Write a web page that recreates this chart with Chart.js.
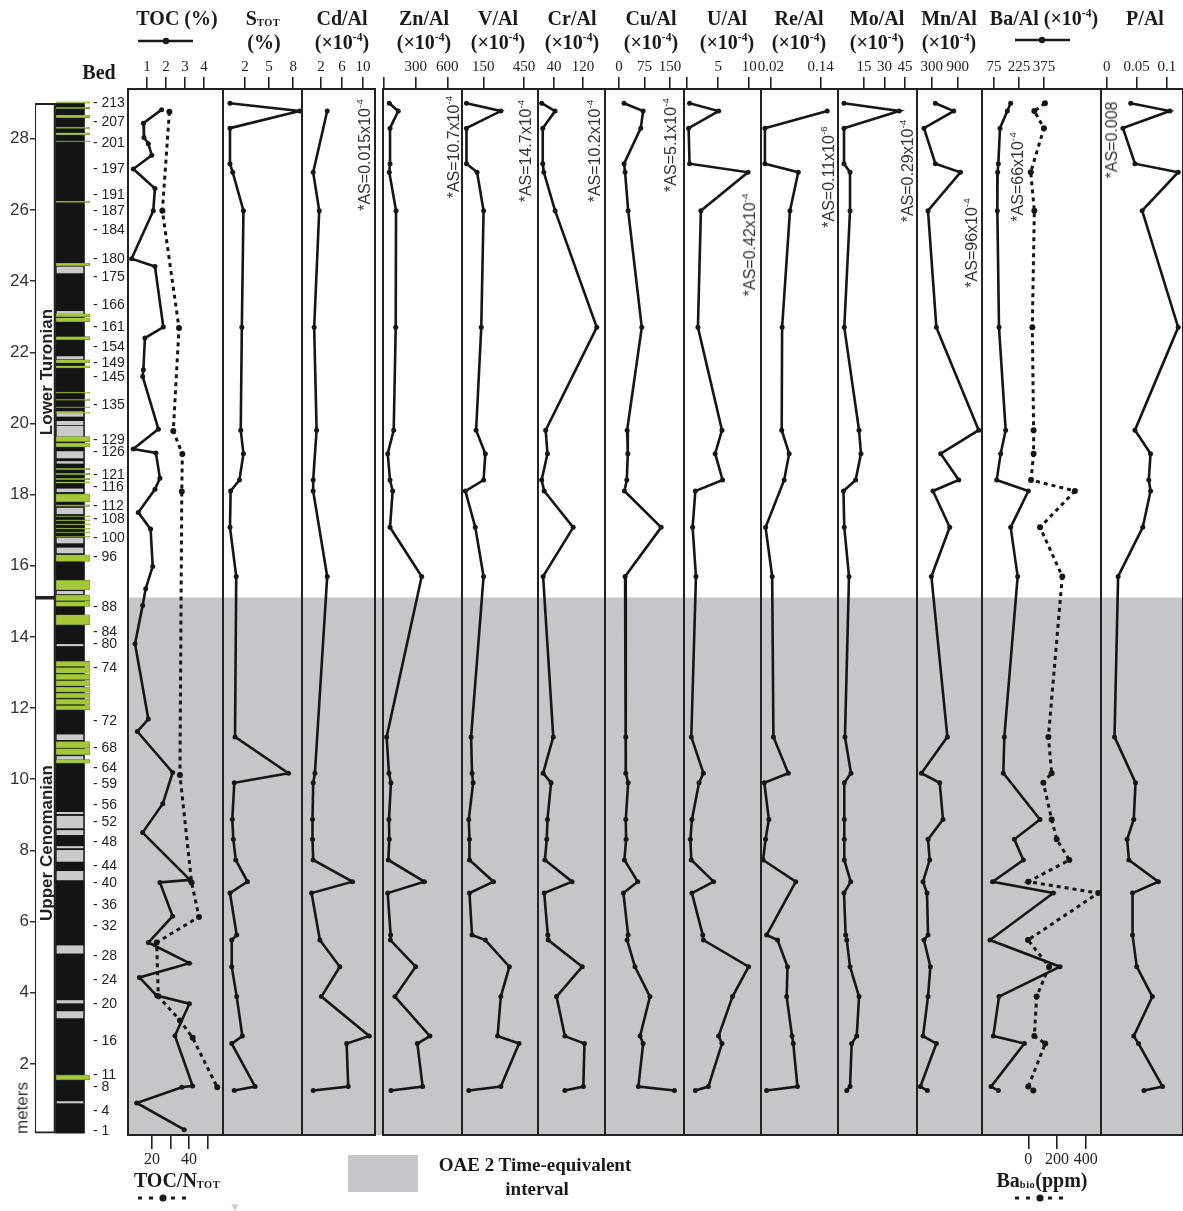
<!DOCTYPE html>
<html>
<head>
<meta charset="utf-8">
<script src="https://cdn.jsdelivr.net/npm/chart.js@4.4.0/dist/chart.umd.min.js"></script>
<style>
html,body{margin:0;padding:0;background:#fff;overflow:hidden;width:1183px;height:1211px;}
#root{position:relative;width:1183px;height:1211px;overflow:hidden;}
#root canvas{position:absolute;top:0;}
.tt{position:absolute;transform:translate(-50%,-50%);font:bold 20px "Liberation Serif","Times New Roman",serif;color:#1a1a1a;white-space:nowrap;line-height:1;}
.sup{font-size:58%;vertical-align:0.65em;}
.sub{font-size:52%;vertical-align:-0.05em;letter-spacing:0.5px;}
.as{position:absolute;transform:translate(-50%,-50%) rotate(-90deg);font:16px "Liberation Sans",Arial,sans-serif;color:#333;white-space:nowrap;line-height:1;}
.as .sup{font-size:62%;vertical-align:0.7em;}
.stage{position:absolute;transform:translate(-50%,-50%) rotate(-90deg);font:bold 17px "Liberation Sans",Arial,sans-serif;color:#222;white-space:nowrap;line-height:1;}
.ax{position:absolute;transform:translate(-50%,-50%) rotate(-90deg);font:17px "Liberation Sans",Arial,sans-serif;color:#333;white-space:nowrap;line-height:1;}
svg.leg{position:absolute;overflow:visible;}
</style>
</head>
<body>
<div id="root">
  <div id="charts"></div>
  <!-- column titles -->
  <div class="tt" style="left:99px;top:72px;">Bed</div>
  <div class="tt" style="left:177px;top:18px;">TOC (%)</div>
  <div class="tt" style="left:263px;top:18px;">S<span class="sub">TOT</span></div>
  <div class="tt" style="left:264px;top:42px;">(%)</div>
  <div class="tt" style="left:342px;top:18px;">Cd/Al</div>
  <div class="tt" style="left:342px;top:42px;">(×10<span class="sup">-4</span>)</div>
  <div class="tt" style="left:424px;top:18px;">Zn/Al</div>
  <div class="tt" style="left:424px;top:42px;">(×10<span class="sup">-4</span>)</div>
  <div class="tt" style="left:498px;top:18px;">V/Al</div>
  <div class="tt" style="left:498px;top:42px;">(×10<span class="sup">-4</span>)</div>
  <div class="tt" style="left:572px;top:18px;">Cr/Al</div>
  <div class="tt" style="left:572px;top:42px;">(×10<span class="sup">-4</span>)</div>
  <div class="tt" style="left:651px;top:18px;">Cu/Al</div>
  <div class="tt" style="left:651px;top:42px;">(×10<span class="sup">-4</span>)</div>
  <div class="tt" style="left:727px;top:18px;">U/Al</div>
  <div class="tt" style="left:727px;top:42px;">(×10<span class="sup">-4</span>)</div>
  <div class="tt" style="left:799px;top:18px;">Re/Al</div>
  <div class="tt" style="left:799px;top:42px;">(×10<span class="sup">-4</span>)</div>
  <div class="tt" style="left:877px;top:18px;">Mo/Al</div>
  <div class="tt" style="left:877px;top:42px;">(×10<span class="sup">-4</span>)</div>
  <div class="tt" style="left:949px;top:18px;">Mn/Al</div>
  <div class="tt" style="left:949px;top:42px;">(×10<span class="sup">-4</span>)</div>
  <div class="tt" style="left:1044px;top:18px;">Ba/Al (×10<span class="sup">-4</span>)</div>
  <div class="tt" style="left:1145px;top:18px;">P/Al</div>
  <svg class="leg" style="left:138px;top:36px;" width="56" height="10"><line x1="0" y1="5" x2="55" y2="5" stroke="#1a1a1a" stroke-width="2.6"/><circle cx="28" cy="5" r="3.2" fill="#1a1a1a"/></svg>
  <svg class="leg" style="left:1015px;top:35px;" width="56" height="10"><line x1="0" y1="5" x2="55" y2="5" stroke="#1a1a1a" stroke-width="2.6"/><circle cx="27" cy="5" r="3.2" fill="#1a1a1a"/></svg>
  <!-- analytical sensitivity notes -->
  <div class="as" style="left:364px;top:155px;">*AS=0.015x10<span class="sup">-4</span></div>
  <div class="as" style="left:453px;top:147px;">*AS=10.7x10<span class="sup">-4</span></div>
  <div class="as" style="left:525px;top:151px;">*AS=14.7x10<span class="sup">-4</span></div>
  <div class="as" style="left:594px;top:151px;">*AS=10.2x10<span class="sup">-4</span></div>
  <div class="as" style="left:670px;top:145px;">*AS=5.1x10<span class="sup">-4</span></div>
  <div class="as" style="left:749px;top:245px;">*AS=0.42x10<span class="sup">-4</span></div>
  <div class="as" style="left:828px;top:177px;">*AS=0.11x10<span class="sup">-6</span></div>
  <div class="as" style="left:907px;top:171px;">*AS=0.29x10<span class="sup">-4</span></div>
  <div class="as" style="left:971px;top:243px;">*AS=96x10<span class="sup">-4</span></div>
  <div class="as" style="left:1017px;top:177px;">*AS=66x10<span class="sup">-4</span></div>
  <div class="as" style="left:1112px;top:140px;">*AS=0.008</div>
  <!-- stage labels -->
  <div class="stage" style="left:46px;top:372px;">Lower Turonian</div>
  <div class="stage" style="left:46px;top:843px;">Upper Cenomanian</div>
  <div class="ax" style="left:22px;top:1108px;">meters</div>
  <!-- bottom legends -->
  <div class="tt" style="left:177px;top:1180px;">TOC/N<span class="sub">TOT</span></div>
  <svg class="leg" style="left:138px;top:1193px;" width="56" height="10"><line x1="0" y1="5" x2="54" y2="5" stroke="#1a1a1a" stroke-width="3" stroke-dasharray="4 7"/><circle cx="25" cy="5" r="3.6" fill="#1a1a1a"/></svg>
  <div class="tt" style="left:1042px;top:1180px;">Ba<span class="sub">bio</span>(ppm)</div>
  <svg class="leg" style="left:1015px;top:1193px;" width="56" height="10"><line x1="0" y1="5" x2="54" y2="5" stroke="#1a1a1a" stroke-width="3" stroke-dasharray="4 7"/><circle cx="25" cy="5" r="3.6" fill="#1a1a1a"/></svg>
  <div style="position:absolute;left:348px;top:1155px;width:70px;height:37px;background:#c5c5ca;"></div>
  <div class="tt" style="left:535px;top:1164px;font-size:19px;">OAE 2 Time-equivalent</div>
  <div class="tt" style="left:537px;top:1188px;font-size:19px;">interval</div>
  <div style="position:absolute;left:229px;top:1200px;font:12px 'Liberation Sans',sans-serif;color:#d0d0d4;">▼</div>
</div>
<script>
// ---------------- DATA ----------------
// depth axis (meters)
const Y_MIN = 0;
const Y_MAX = 29.4;
const METER_TICKS = [2, 4, 6, 8, 10, 12, 14, 16, 18, 20, 22, 24, 26, 28];

// bed numbers and their stratigraphic height (m)
const BED_LABEL = ['213','207','201','197','191','187','184','180','175','166','161','154','149','145','135','129','126','121','116','112','108','100','96','88','84','80','74','72','68','64','59','56','52','48','44','40','36','32','28','24','20','16','11','8','4','1'];
const BED_DEPTH = [29.0,28.46,27.89,27.16,26.43,25.98,25.42,24.63,24.12,23.33,22.71,22.15,21.7,21.31,20.52,19.54,19.2,18.55,18.21,17.68,17.31,16.78,16.24,14.84,14.14,13.8,13.13,11.64,10.88,10.32,9.87,9.28,8.8,8.24,7.57,7.09,6.47,5.88,5.04,4.36,3.69,2.65,1.67,1.34,0.67,0.11];

// lithology column: [base, top] in meters
const COLUMN_RANGE = [0.05, 29.0];
const STAGE_NAMES = ['Upper Cenomanian', 'Lower Turonian'];
const STAGE_BASE = [0.05, 15.1];
const STAGE_TOP = [15.1, 29.0];
const GREEN_BEDS = [[29.0,29.04],[28.85,28.89],[28.59,28.67],[28.29,28.33],[28.11,28.17],[27.91,27.94],[26.21,26.25],[24.43,24.51],[23.0,23.08],[22.86,22.97],[22.35,22.44],[21.7,21.79],[21.56,21.62],[20.85,20.88],[20.65,20.68],[20.44,20.47],[20.29,20.32],[19.49,19.63],[19.34,19.45],[18.7,18.74],[18.56,18.6],[18.42,18.46],[18.32,18.36],[17.8,18.02],[17.67,17.71],[17.37,17.4],[17.26,17.29],[17.15,17.18],[17.03,17.06],[16.92,16.95],[16.8,16.83],[16.12,16.31],[15.32,15.59],[15.02,15.18],[14.86,14.99],[14.34,14.62],[13.17,13.31],[12.98,13.14],[12.8,12.95],[12.62,12.77],[12.45,12.59],[12.28,12.42],[12.1,12.25],[11.95,12.07],[10.88,11.06],[10.69,10.86],[10.45,10.55],[1.55,1.69]];
const GRAY_BEDS = [[24.23,24.4],[23.08,23.15],[21.81,21.88],[20.2,20.33],[19.96,20.06],[19.63,19.92],[19.03,19.21],[18.88,18.93],[18.08,18.16],[17.46,17.62],[16.64,16.78],[16.36,16.5],[15.21,15.28],[13.75,13.79],[11.11,11.25],[10.55,10.64],[9.03,9.07],[8.63,8.96],[8.44,8.56],[8.07,8.11],[7.69,8.0],[7.17,7.41],[5.11,5.32],[3.71,3.78],[3.29,3.47],[0.9,0.94]];

// OAE 2 time-equivalent interval [base, top] (m)
const OAE2_INTERVAL = [0, 15.1];

// TOC (wt%) samples
const TOC_DEPTH = [28.82,28.44,28.04,27.86,27.54,27.15,26.6,25.98,24.63,24.41,22.71,22.4,21.51,21.32,19.84,19.28,19.17,18.46,18.15,17.5,17.03,15.98,15.35,14.88,13.81,11.69,11.34,10.19,9.31,8.5,7.17,7.1,6.15,5.41,4.83,4.43,3.92,3.69,2.79,1.38,1.34,0.9,0.15];
const TOC_WT = [1.77,0.81,0.84,1.07,1.25,0.28,1.42,1.33,0.19,1.42,1.86,0.89,0.81,0.77,1.6,0.28,1.47,1.68,1.42,0.54,1.19,1.3,0.93,0.77,0.37,1.07,0.49,2.35,1.83,0.77,3.26,1.68,2.35,1.07,3.23,0.6,1.51,3.23,2.47,3.4,2.83,0.46,2.96];

// TOC/N_TOT samples
const TOCN_DEPTH = [28.76,25.98,22.68,19.79,19.14,18.09,10.12,7.1,6.13,5.41,3.9,3.22,2.73,1.34];
const TOC_N = [29.4,25.6,34.6,31.5,36.4,36.1,35.1,41.4,45.4,22.5,23.4,35.1,42,55.3];

// geochemistry samples (shared depths, null = not plotted)
const SAMPLE_DEPTH = [29.0,28.78,28.3,27.3,27.06,25.98,22.7,19.81,19.15,18.41,18.1,17.08,15.7,11.19,10.17,9.9,8.87,8.31,7.73,7.12,6.8,5.62,5.48,4.73,3.89,2.78,2.57,1.36,1.25];
const S_TOT = [0.12,8.8,0.12,0.12,0.46,1.8,1.6,1.46,1.8,1.3,0.2,0.12,0.9,0.75,7.4,0.66,0.41,0.54,0.84,2.3,0.12,0.96,0.34,0.34,0.96,1.66,0.34,3.25,0.66];
const CD_AL = [null,3.2,null,null,0.53,1.68,0.72,1.18,null,0.53,0.53,null,3.2,null,0.86,0.53,0.4,0.4,0.53,8.0,0.22,null,1.8,5.6,2.1,11.2,6.9,7.2,0.53];
const ZN_AL = [50,135,57,57,50,114,111,92,35,57,82,57,357,25,47,66,47,50,41,382,35,63,60,300,104,435,316,366,66];
const V_AL = [26,279,26,26,104,152,135,97,165,152,18,91,152,60,67,75,43,48,48,225,48,67,165,342,279,255,413,279,43];
const CR_AL = [6,43,9,9,12,43,158,17,22,6,13,93,10,38,10,32,22,20,15,90,13,23,24,118,47,70,124,121,70];
const CU_AL = [15,71,64,15,18,27,67,24,26,23,16,124,18,20,20,27,20,21,16,55,13,27,24,47,91,62,71,57,163];
const U_AL = [0.37,5.05,0.21,0.37,9.8,2.2,1.72,5.6,4.5,5.7,1.3,0.86,1.4,0.65,2.6,1.9,0.75,0.5,0.65,4.25,0.75,2.5,2.6,9.9,7.3,5.05,5.6,3.4,1.3];
const RE_AL = [null,0.156,0.0055,0.0055,0.086,0.066,0.047,0.046,0.064,0.052,null,0.007,0.023,0.026,0.062,0.004,0.015,0.007,0.001,0.080,null,0.0096,0.036,0.060,0.058,0.071,0.074,0.084,0.0096];
const MO_AL = [0.4,40.8,0.4,0.4,4.8,4.8,0.6,11.4,12.8,8.9,0,0.6,4.05,1.1,5.5,0.6,0.6,0.6,0.6,5.3,0.4,1.6,2.4,4.8,11.4,9.7,6.0,4.8,2.4];
const MN_AL = [385,808,122,385,963,215,408,1385,508,924,330,716,293,662,62,485,561,215,254,100,192,215,122,270,215,100,408,39,200];
const BA_AL = [175,155,111,101,97,95,105,145,115,91,281,175,217,137,131,null,351,197,251,67,431,null,51,471,105,71,257,57,101];
const BA_BIO = [116,42,109,null,17,42,28,37,37,19,325,82,237,140,163,105,163,198,286,0,488,null,-2,145,58,42,118,0,35];
const P_AL = [0.040,0.105,0.027,0.047,0.119,0.059,0.119,0.047,0.073,0.070,0.073,0.060,0.019,0.013,null,0.048,0.045,0.034,0.037,0.086,0.043,0.043,null,0.050,0.076,0.045,0.053,0.093,0.062];

// tick values / labels of each panel's scale
const TOC_TICKS = [1,2,3,4];          const TOC_TICK_LABELS = ['1','2','3','4'];
const STOT_TICKS = [2,5,8];           const STOT_TICK_LABELS = ['2','5','8'];
const CD_TICKS = [2,6,10];            const CD_TICK_LABELS = ['2','6','10'];
const ZN_TICKS = [0,300,600];         const ZN_TICK_LABELS = ['','300','600'];
const V_TICKS = [150,450];            const V_TICK_LABELS = ['150','450'];
const CR_TICKS = [40,120];            const CR_TICK_LABELS = ['40','120'];
const CU_TICKS = [0,75,150];          const CU_TICK_LABELS = ['0','75','150'];
const U_TICKS = [0,5,10];             const U_TICK_LABELS = ['','5','10'];
const RE_TICKS = [0.02,0.14];         const RE_TICK_LABELS = ['0.02','0.14'];
const MO_TICKS = [15,30,45];          const MO_TICK_LABELS = ['15','30','45'];
const MN_TICKS = [300,900];           const MN_TICK_LABELS = ['300','900'];
const BA_TICKS = [75,225,375];        const BA_TICK_LABELS = ['75','225','375'];
const P_TICKS = [0,0.05,0.1];         const P_TICK_LABELS = ['0','0.05','0.1'];
const TOCN_TICKS = [20,30,40,50];     const TOCN_TICK_LABELS = ['20','','40',''];
const BABIO_TICKS = [0,200,400];      const BABIO_TICK_LABELS = ['0','200','400'];

// ---------------- RENDERING ----------------
const SERIF = '"Liberation Serif","Times New Roman",serif';
const SANS = '"Liberation Sans",Arial,sans-serif';
Chart.defaults.font.family = SERIF;
Chart.defaults.color = '#222';
const W = 1183, H = 1211, PLOT_TOP = 89, PLOT_BOTTOM_PAD = 76, PADX = 30;
const INK = '#161616';
const charts = document.getElementById('charts');

function addCanvas(left, width) {
  const c = document.createElement('canvas');
  c.width = width; c.height = H;
  c.style.left = left + 'px'; c.style.width = width + 'px'; c.style.height = H + 'px';
  charts.appendChild(c);
  return c;
}
function pts(depth, values) {
  return depth.map((d, i) => ({x: values[i], y: d})).filter(p => p.x !== null && p.x !== undefined);
}
function fixedTicks(values) {
  return (scale) => { scale.ticks = values.map(v => ({value: v})); };
}
const framePlugin = {
  id: 'frame',
  afterDraw(chart) {
    const {ctx, chartArea: a} = chart;
    ctx.save();
    ctx.strokeStyle = '#222'; ctx.lineWidth = 2;
    ctx.strokeRect(a.left, a.top, a.right - a.left, a.bottom - a.top);
    ctx.restore();
  }
};

// 1) OAE 2 background band
new Chart(addCanvas(128, W - 128), {
  type: 'bar',
  data: {labels: ['OAE 2 Time-equivalent interval'],
         datasets: [{data: [OAE2_INTERVAL], backgroundColor: '#c5c5ca', borderWidth: 0, barPercentage: 1, categoryPercentage: 1}]},
  options: {responsive: false, animation: false, events: [],
    layout: {padding: {left: 0, right: 0, top: PLOT_TOP, bottom: PLOT_BOTTOM_PAD}},
    plugins: {legend: {display: false}, tooltip: {enabled: false}},
    scales: {x: {display: false}, y: {display: false, min: Y_MIN, max: Y_MAX}}}
});

// 2) lithology column with meter axis and bed labels
// (order: lower number is drawn on top)
const LITH = {stageX: 0.18, colX: 0.636, greenX: 0.69, grayX: 0.636};
new Chart(addCanvas(0, 130), {
  type: 'bar',
  data: {datasets: [
    {label: 'Stage', stack: 'lith', order: 0, data: STAGE_NAMES.map((n, i) => ({x: LITH.stageX, y: [STAGE_BASE[i], STAGE_TOP[i]]})),
     backgroundColor: '#ffffff', borderColor: '#222', borderWidth: 2, borderSkipped: false, barThickness: 21},
    {label: 'Column', stack: 'lith', order: 3, data: [{x: LITH.colX, y: COLUMN_RANGE}],
     backgroundColor: '#141414', borderWidth: 0, barThickness: 29},
    {label: 'Green beds', stack: 'lith', order: 1, data: GREEN_BEDS.map(b => ({x: LITH.greenX, y: b})),
     backgroundColor: '#a3c839', borderColor: '#5f7d1c', borderWidth: 0.6, borderSkipped: false, barThickness: 34},
    {label: 'Gray beds', stack: 'lith', order: 2, data: GRAY_BEDS.map(b => ({x: LITH.grayX, y: b})),
     backgroundColor: '#cacacd', borderWidth: 0, barThickness: 26}
  ]},
  options: {responsive: false, animation: false, events: [],
    layout: {padding: {left: 0, right: 0, top: PLOT_TOP, bottom: PLOT_BOTTOM_PAD}},
    plugins: {legend: {display: false}, tooltip: {enabled: false}},
    scales: {
      x: {type: 'linear', min: 0, max: 1, display: false, offset: false},
      y: {type: 'linear', min: Y_MIN, max: Y_MAX, stacked: false, position: 'left',
          afterFit: s => { s.width = 35; }, afterBuildTicks: fixedTicks(METER_TICKS),
          ticks: {font: {family: SANS, size: 17}, color: '#333', padding: 1, autoSkip: false},
          grid: {drawOnChartArea: false, tickLength: 5, color: '#333', lineWidth: 1.5},
          border: {display: false}},
      yBed: {type: 'linear', min: Y_MIN, max: Y_MAX, position: 'right',
          afterFit: s => { s.width = 40; }, afterBuildTicks: fixedTicks(BED_DEPTH),
          ticks: {autoSkip: false, callback: (v, i) => '- ' + BED_LABEL[i], font: {family: SANS, size: 14}, color: '#222', padding: 3},
          grid: {display: false, drawTicks: false}, border: {display: false}}
    }}
});

// 3) geochemical panels
const PANELS = [
  {L: 128, R: 223, min: 0, max: 5, ticks: TOC_TICKS, labels: TOC_TICK_LABELS, depth: TOC_DEPTH, values: TOC_WT,
   second: {min: 7, max: 58.4, ticks: TOCN_TICKS, labels: TOCN_TICK_LABELS, depth: TOCN_DEPTH, values: TOC_N}},
  {L: 223, R: 302, min: -0.75, max: 9.1, ticks: STOT_TICKS, labels: STOT_TICK_LABELS, depth: SAMPLE_DEPTH, values: S_TOT},
  {L: 302, R: 375, min: -1.6, max: 12.3, ticks: CD_TICKS, labels: CD_TICK_LABELS, depth: SAMPLE_DEPTH, values: CD_AL},
  {L: 383, R: 462, min: -9.5, max: 739, ticks: ZN_TICKS, labels: ZN_TICK_LABELS, depth: SAMPLE_DEPTH, values: ZN_AL},
  {L: 462, R: 538, min: -7, max: 553, ticks: V_TICKS, labels: V_TICK_LABELS, depth: SAMPLE_DEPTH, values: V_AL},
  {L: 538, R: 605, min: -4.1, max: 180.7, ticks: CR_TICKS, labels: CR_TICK_LABELS, depth: SAMPLE_DEPTH, values: CR_AL},
  {L: 605, R: 684, min: -41, max: 191, ticks: CU_TICKS, labels: CU_TICK_LABELS, depth: SAMPLE_DEPTH, values: CU_AL},
  {L: 684, R: 761, min: -0.53, max: 11.9, ticks: U_TICKS, labels: U_TICK_LABELS, depth: SAMPLE_DEPTH, values: U_AL},
  {L: 761, R: 838, min: -0.004, max: 0.182, ticks: RE_TICKS, labels: RE_TICK_LABELS, depth: SAMPLE_DEPTH, values: RE_AL},
  {L: 838, R: 917, min: -4, max: 53.8, ticks: MO_TICKS, labels: MO_TICK_LABELS, depth: SAMPLE_DEPTH, values: MO_AL},
  {L: 917, R: 982, min: -39, max: 1461, ticks: MN_TICKS, labels: MN_TICK_LABELS, depth: SAMPLE_DEPTH, values: MN_AL},
  {L: 982, R: 1101, min: 3, max: 717, ticks: BA_TICKS, labels: BA_TICK_LABELS, depth: SAMPLE_DEPTH, values: BA_AL,
   second: {min: -323, max: 507, ticks: BABIO_TICKS, labels: BABIO_TICK_LABELS, depth: SAMPLE_DEPTH, values: BA_BIO}},
  {L: 1101, R: 1183, min: -0.0095, max: 0.127, ticks: P_TICKS, labels: P_TICK_LABELS, depth: SAMPLE_DEPTH, values: P_AL}
];

PANELS.forEach(p => {
  const datasets = [{
    data: pts(p.depth, p.values), xAxisID: 'x', showLine: true,
    borderColor: INK, borderWidth: 2.6, pointRadius: 2.5, pointBackgroundColor: INK, pointBorderWidth: 0
  }];
  const scales = {
    x: {type: 'linear', position: 'top', min: p.min, max: p.max,
        afterFit: s => { s.height = PLOT_TOP; }, afterBuildTicks: fixedTicks(p.ticks),
        ticks: {autoSkip: false, maxRotation: 0, callback: (v, i) => p.labels[i], font: {family: SERIF, size: 15}, color: '#222', padding: 1},
        grid: {drawOnChartArea: false, tickLength: 12, color: '#222', lineWidth: 1.6},
        border: {display: false}},
    y: {type: 'linear', min: Y_MIN, max: Y_MAX, display: false}
  };
  if (p.second) {
    datasets.push({
      data: pts(p.second.depth, p.second.values), xAxisID: 'x2', showLine: true,
      borderColor: INK, borderWidth: 3, borderDash: [4, 4], pointRadius: 3, pointBackgroundColor: INK, pointBorderWidth: 0
    });
    scales.x2 = {type: 'linear', position: 'bottom', min: p.second.min, max: p.second.max,
        afterFit: s => { s.height = PLOT_BOTTOM_PAD; }, afterBuildTicks: fixedTicks(p.second.ticks),
        ticks: {autoSkip: false, maxRotation: 0, callback: (v, i) => p.second.labels[i], font: {family: SERIF, size: 16}, color: '#222', padding: 1},
        grid: {drawOnChartArea: false, tickLength: 14, color: '#222', lineWidth: 1.6},
        border: {display: false}};
  }
  new Chart(addCanvas(p.L - PADX, (p.R - p.L) + 2 * PADX), {
    type: 'scatter',
    data: {datasets},
    options: {responsive: false, animation: false, events: [],
      layout: {padding: {left: PADX, right: PADX, top: 0, bottom: p.second ? 0 : PLOT_BOTTOM_PAD}},
      plugins: {legend: {display: false}, tooltip: {enabled: false}},
      scales},
    plugins: [framePlugin]
  });
});
</script>
</body>
</html>
